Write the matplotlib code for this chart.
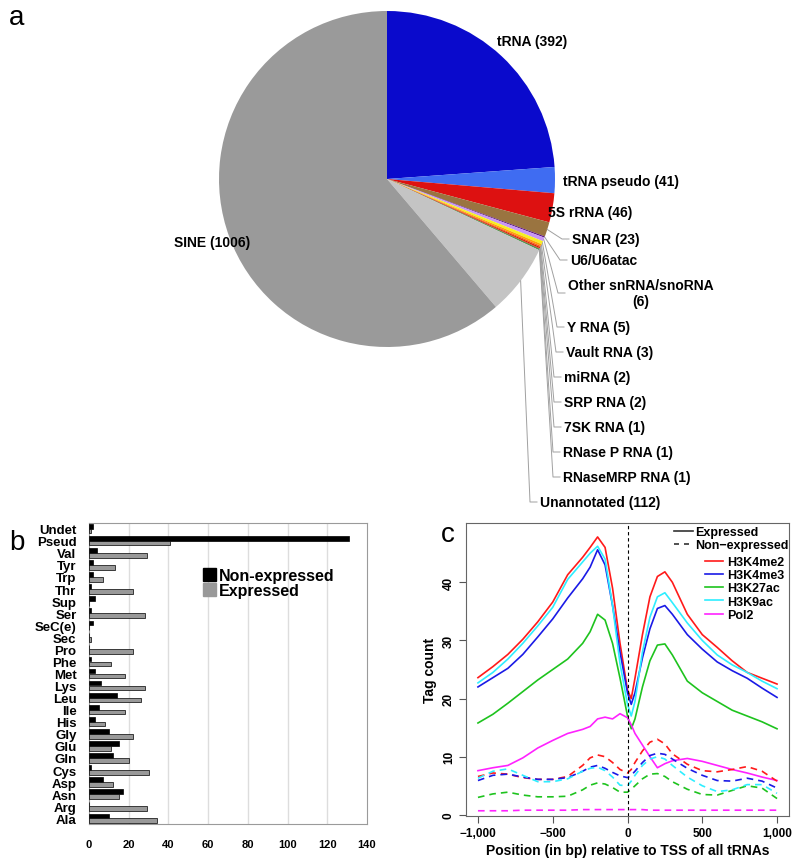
import numpy as np
import matplotlib.pyplot as plt
from matplotlib.lines import Line2D
from matplotlib.patches import Patch

plt.rcParams['font.family'] = ['Liberation Sans', 'DejaVu Sans']
plt.rcParams['font.weight'] = 'bold'

W, H = 800, 862

def box(l, t, r, b):
    # pixel rectangle -> figure fraction
    return [l / W, 1 - b / H, (r - l) / W, (b - t) / H]

# ---- panel a data
rna_labels = ["tRNA (392)", "tRNA pseudo (41)", "5S rRNA (46)", "SNAR (23)", "U6/U6atac",
              "Other snRNA/snoRNA\n(6)", "Y RNA (5)", "Vault RNA (3)", "miRNA (2)", "SRP RNA (2)",
              "7SK RNA (1)", "RNase P RNA (1)", "RNaseMRP RNA (1)", "Unannotated (112)", "SINE (1006)"]
rna_counts = [392, 41, 46, 23, 2, 6, 5, 3, 2, 2, 1, 1, 1, 112, 1006]
rna_colors = ["#0A0ACC", "#3F6CF2", "#DD1111", "#9A7440", "#5A1480", "#C896F5", "#F5F020",
              "#FFA500", "#FF5A10", "#D02000", "#E01010", "#1E8C1E", "#0E6A0E", "#C4C4C4", "#9A9A9A"]
# label anchors in pixels (left x, centre y)
label_pos = [(497, 42), (563, 182), (548, 213), (572, 240), (570, 261), (568, 294),
             (567, 328), (566, 353), (564, 378), (564, 403), (564, 428), (563, 453),
             (563, 478), (540, 503), (250, 243)]

# ---- panel b data
amino = ["Undet", "Pseud", "Val", "Tyr", "Trp", "Thr", "Sup", "Ser", "SeC(e)", "Sec", "Pro", "Phe",
         "Met", "Lys", "Leu", "Ile", "His", "Gly", "Glu", "Gln", "Cys", "Asp", "Asn", "Arg", "Ala"]
non_expressed = [2, 131, 4, 2, 2, 1, 3, 1, 2, 0, 0, 1, 3, 6, 14, 5, 3, 10, 15, 12, 1, 7, 17, 0, 10]
expressed = [1, 41, 29, 13, 7, 22, 0, 28, 0, 1, 22, 11, 18, 28, 26, 18, 8, 22, 11, 20, 30, 12, 15, 29, 34]

# ---- panel c data
pos = [-1000, -900, -800, -700, -600, -500, -400, -300, -250, -200, -150, -100, -50, 0,
       25, 50, 100, 150, 200, 250, 300, 400, 500, 600, 700, 800, 900, 1000]
k4me2_e = [23.6, 25.5, 27.6, 30.2, 33.2, 36.6, 41.3, 44.3, 46.0, 47.8, 46.0, 39.0, 29.5, 21.5,
           20.0, 23.5, 31.0, 37.5, 41.0, 41.8, 40.0, 34.5, 31.0, 28.8, 26.5, 24.5, 23.5, 22.5]
k4me3_e = [22.0, 23.6, 25.2, 27.6, 30.6, 33.7, 37.3, 40.6, 42.6, 45.6, 43.0, 36.0, 28.0, 21.0,
           19.0, 21.0, 27.0, 32.0, 35.5, 36.0, 34.5, 31.0, 28.5, 26.3, 24.8, 23.5, 21.8, 20.2]
k27ac_e = [15.8, 17.3, 19.2, 21.2, 23.2, 25.0, 26.8, 29.5, 31.5, 34.5, 33.5, 29.5, 23.5, 17.0,
           14.8, 16.5, 22.0, 26.5, 29.2, 29.4, 27.5, 23.0, 21.0, 19.5, 18.0, 17.0, 16.0, 14.8]
k9ac_e = [22.7, 24.5, 26.8, 29.5, 32.5, 35.7, 40.5, 43.5, 45.0, 46.2, 44.0, 36.0, 26.0, 19.0,
          17.0, 19.5, 28.0, 34.0, 37.5, 38.2, 36.5, 33.0, 30.0, 27.5, 25.8, 24.5, 23.0, 21.7]
pol2_e = [7.6, 8.1, 8.5, 9.8, 11.5, 12.8, 14.0, 14.7, 15.2, 16.5, 16.8, 16.5, 17.4, 16.7,
          15.5, 14.0, 12.0, 10.0, 8.1, 8.8, 9.3, 9.7, 9.2, 8.5, 7.8, 7.2, 6.5, 5.9]
k4me2_n = [6.6, 7.2, 7.0, 6.4, 6.1, 6.1, 6.6, 8.5, 9.8, 10.3, 10.0, 9.0, 7.8, 7.2,
           7.8, 9.0, 11.0, 12.5, 13.0, 12.2, 10.5, 8.7, 7.6, 7.4, 7.8, 8.3, 7.5, 5.8]
k4me3_n = [5.9, 6.8, 7.0, 6.5, 6.1, 6.1, 6.4, 7.5, 8.2, 8.5, 8.0, 7.3, 6.7, 6.4,
           6.8, 7.5, 9.0, 10.2, 10.6, 10.4, 9.6, 8.0, 6.8, 5.9, 5.8, 6.3, 5.8, 4.6]
k27ac_n = [3.0, 3.6, 3.9, 3.4, 3.1, 3.1, 3.2, 4.3, 5.1, 5.5, 5.3, 4.7, 3.9, 3.9,
           4.4, 5.0, 6.2, 7.0, 7.1, 6.6, 5.7, 4.4, 3.5, 3.4, 4.2, 5.0, 4.6, 2.8]
k9ac_n = [6.3, 7.5, 7.9, 6.8, 5.7, 5.7, 6.2, 7.5, 8.0, 8.2, 7.6, 6.5, 5.1, 5.0,
          5.8, 6.8, 8.5, 9.6, 10.0, 9.6, 8.5, 6.5, 5.0, 4.0, 4.3, 5.2, 5.2, 3.7]
pol2_n = [0.7, 0.7, 0.7, 0.8, 0.8, 0.8, 0.8, 0.9, 0.9, 0.9, 0.9, 0.9, 0.9, 0.9,
          0.9, 0.9, 0.9, 0.8, 0.8, 0.8, 0.8, 0.8, 0.8, 0.8, 0.8, 0.8, 0.8, 0.8]
marks = ["H3K4me2", "H3K4me3", "H3K27ac", "H3K9ac", "Pol2"]
mark_colors = ["#FF1A1A", "#1A1AE6", "#1EC31E", "#2EEEFF", "#FF22FF"]

fig = plt.figure(figsize=(W / 100, H / 100), dpi=100)

# ================= a: pie
cx, cy, R = 387, 180, 168
axa = fig.add_axes(box(cx - R, cy - R, cx + R, cy + R))
wedges, _ = axa.pie(rna_counts, colors=rna_colors, startangle=90, counterclock=False,
                    radius=1, wedgeprops=dict(linewidth=0))
axa.set_xlim(-1, 1)
axa.set_ylim(-1, 1)
axa.axis("off")

def px2d(px, py):
    return (px - cx) / R, (cy - py) / R

for i, (lab, (lx, ly)) in enumerate(zip(rna_labels, label_pos)):
    tx, ty = px2d(lx, ly)
    ha = "right" if i == len(rna_labels) - 1 else "left"
    axa.text(tx, ty, lab, ha=ha, va="center", ma="center", fontsize=10,
             fontweight="bold", clip_on=False)
    if 3 <= i <= 13:
        w = wedges[i]
        ang = np.deg2rad((w.theta1 + w.theta2) / 2)
        x0, y0 = np.cos(ang), np.sin(ang)
        bx, by = px2d(lx - 10, ly)
        ex, _ = px2d(lx - 3, ly)
        axa.plot([x0, bx, ex], [y0, by, by], color="#A0A0A0", lw=0.7, clip_on=False)

fig.text(9 / W, 1 - 18 / H, "a", fontsize=20, fontweight="normal", va="center")

# ================= b: bar chart
axb = fig.add_axes(box(89, 524, 367, 825))
ypos = np.arange(len(amino))[::-1]
axb.barh(ypos + 0.2, non_expressed, height=0.38, color="black", edgecolor="black", lw=0.5,
         label="Non-expressed", zorder=3)
axb.barh(ypos - 0.2, expressed, height=0.38, color="#999999", edgecolor="black", lw=0.5,
         label="Expressed", zorder=3)
axb.set_xlim(0, 140)
axb.set_ylim(-0.47, 24.47)
axb.set_xticks(range(0, 141, 20))
axb.set_yticks(ypos)
axb.set_yticklabels(amino, fontsize=9.5, fontweight="bold")
axb.tick_params(axis="y", length=0, pad=9)
axb.tick_params(axis="x", length=0, pad=11, labelsize=8)
for v in range(20, 140, 20):
    axb.axvline(v, color="#DDDDDD", lw=1, zorder=1)
for s in axb.spines.values():
    s.set_color("#9A9A9A")
axb.legend(handles=[Patch(color="black", label="Non-expressed"),
                    Patch(color="#999999", label="Expressed")],
           loc="upper left", bbox_to_anchor=(0.41, 0.85), frameon=False,
           handlelength=0.8, handleheight=0.8, handletextpad=0.2,
           labelspacing=0.0, borderpad=0, borderaxespad=0,
           prop=dict(weight="bold", size=11.5))
fig.text(9 / W, 1 - 543 / H, "b", fontsize=20, fontweight="normal", va="center")

# ================= c: profiles
axc = fig.add_axes(box(466, 524, 789, 817))
expr_series = [k4me2_e, k4me3_e, k27ac_e, k9ac_e, pol2_e]
non_series = [k4me2_n, k4me3_n, k27ac_n, k9ac_n, pol2_n]
for ys, c in zip(expr_series, mark_colors):
    axc.plot(pos, ys, color=c, lw=1.2)
for ys, c in zip(non_series, mark_colors):
    axc.plot(pos, ys, color=c, lw=1.2, dashes=(4, 3))
axc.axvline(0, color="black", lw=0.8, dashes=(3, 2.5))
axc.set_xlim(-1080, 1080)
axc.set_ylim(-0.2, 50.2)
axc.set_xticks([-1000, -500, 0, 500, 1000])
axc.set_xticklabels(["\u22121,000", "\u2212500", "0", "500", "1,000"])
axc.set_yticks([0, 10, 20, 30, 40])
axc.set_yticklabels(["0", "10", "20", "30", "40"], rotation=90, va="center")
axc.tick_params(labelsize=8.5, length=5, width=0.8, color="#555555", pad=3)
for s in axc.spines.values():
    s.set_color("#666666")
axc.set_xlabel("Position (in bp) relative to TSS of all tRNAs", fontsize=10,
               fontweight="bold", labelpad=3)
axc.set_ylabel("Tag count", fontsize=10, fontweight="bold", labelpad=4)

leg1 = axc.legend(handles=[Line2D([], [], color="#333333", lw=1.2, label="Expressed"),
                           Line2D([], [], color="#333333", lw=1.2, dashes=(3, 3),
                                  label="Non\u2212expressed")],
                  loc="upper left", bbox_to_anchor=(674 / W, 1 - 527 / H),
                  bbox_transform=fig.transFigure, frameon=False,
                  prop=dict(weight="bold", size=9), handlelength=1.5,
                  handletextpad=0.2, labelspacing=0.1, borderpad=0, borderaxespad=0)
axc.add_artist(leg1)
axc.legend(handles=[Line2D([], [], color=c, lw=1.2, label=m) for m, c in zip(marks, mark_colors)],
           loc="upper left", bbox_to_anchor=(705 / W, 1 - 557 / H),
           bbox_transform=fig.transFigure, frameon=False,
           prop=dict(weight="bold", size=9), handlelength=1.4,
           handletextpad=0.4, labelspacing=0.1, borderpad=0, borderaxespad=0)
fig.text(441 / W, 1 - 535 / H, "c", fontsize=20, fontweight="normal", va="center")

fig.savefig("out.png", dpi=100)
